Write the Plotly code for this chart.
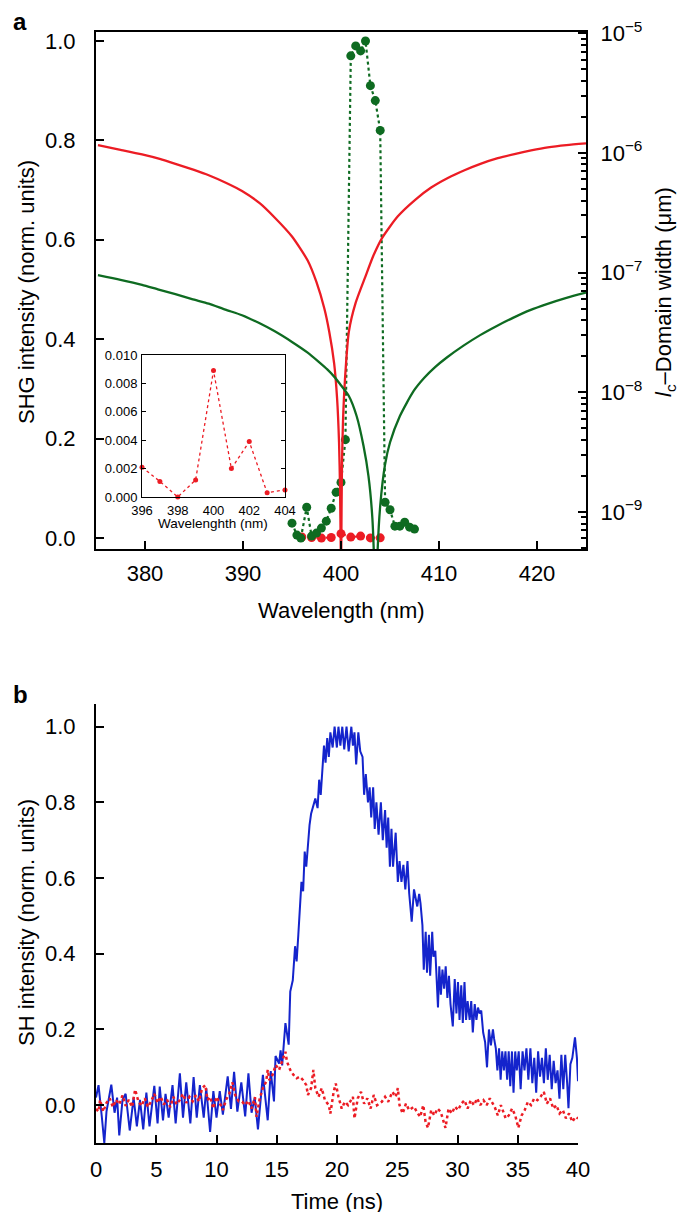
import plotly.graph_objects as go

# ---------------- Panel a data ----------------
# solid curves (right log axis): coherence length / domain width
red_lc_wl = [375.2, 377.5, 379.7, 381.5, 383.1, 385.0, 386.5, 388.3, 389.9, 391.7, 393.2, 395.0, 396.6, 397.5, 398.3, 398.8,
             399.3, 399.6, 399.8, 399.9, 399.97, 400.0,
             400.03, 400.1, 400.2, 400.4, 400.8, 401.5, 402.5, 403.3, 404.2, 405.8, 407.6, 409.2, 410.9, 412.6, 414.3, 416.0,
             417.7, 419.4, 421.1, 423.0, 425.0]
red_lc_val = [1.16e-6, 1.06e-6, 9.7e-7, 8.9e-7, 8.1e-7, 7.2e-7, 6.5e-7, 5.6e-7, 4.8e-7, 3.8e-7, 2.9e-7, 2.0e-7, 1.26e-7, 8.3e-8,
              5.0e-8, 3.2e-8, 1.74e-8, 8.9e-9, 3.8e-9, 1.6e-9, 5.0e-10, 1e-10,
              5.0e-10, 2.5e-9, 5.6e-9, 1.26e-8, 3.2e-8, 5.6e-8, 9.3e-8, 1.38e-7, 1.95e-7, 2.95e-7, 4.07e-7, 5.13e-7, 6.17e-7,
              7.16e-7, 8.13e-7, 9.02e-7, 9.77e-7, 1.047e-6, 1.11e-6, 1.16e-6, 1.2e-6]

green_lc_wl = [375.2, 377.5, 379.7, 381.4, 383.1, 384.8, 386.5, 388.2, 389.9, 391.6, 393.2, 395.0, 396.6, 397.7, 398.6, 399.3,
               399.9, 400.8, 401.6, 402.3, 402.8, 403.2, 403.45, 403.55,
               403.7, 404.0, 404.5, 405.0, 406.0, 407.4, 408.5, 409.6, 410.8, 412.5, 414.2, 415.9, 417.6, 419.3, 421.0, 423.0, 425.0]
green_lc_val = [9.5e-8, 8.7e-8, 7.9e-8, 7.2e-8, 6.6e-8, 6.0e-8, 5.5e-8, 4.9e-8, 4.4e-8, 3.8e-8, 3.24e-8, 2.63e-8, 2.14e-8, 1.8e-8,
                1.55e-8, 1.35e-8, 1.17e-8, 9.3e-9, 6.3e-9, 3.55e-9, 2.0e-9, 8.9e-10, 2.5e-10, 1e-10,
                4.0e-10, 1.12e-9, 2.5e-9, 3.8e-9, 6.3e-9, 1.02e-8, 1.32e-8, 1.62e-8, 1.95e-8, 2.45e-8, 3.0e-8, 3.58e-8, 4.2e-8,
                4.85e-8, 5.45e-8, 6.15e-8, 6.8e-8]

# measured SHG (left axis)
green_shg_wl = [395.0, 395.5, 395.9, 396.5, 397.0, 397.5, 398.0, 398.5, 399.0, 399.5, 400.0, 400.45,
                401.0, 401.5, 402.0, 402.5, 403.0, 403.5, 404.0, 404.5, 405.0, 405.5, 406.0, 406.5, 407.0, 407.5]
green_shg_val = [0.030, 0.006, 0.0, 0.062, 0.004, 0.010, 0.020, 0.034, 0.060, 0.092, 0.112, 0.198,
                 0.970, 0.990, 0.980, 1.000, 0.910, 0.880, 0.820, 0.072, 0.057, 0.024, 0.024, 0.032, 0.022, 0.018]

red_shg_wl = [396, 397, 398, 399, 400, 401, 402, 403, 404]
red_shg_val = [0.0021, 0.0011, 0.0000, 0.0012, 0.0089, 0.0020, 0.0039, 0.0003, 0.0005]

left_ticks = [0.0, 0.2, 0.4, 0.6, 0.8, 1.0]
wl_ticks = [380, 390, 400, 410, 420]
log_ticks = [1e-9, 1e-8, 1e-7, 1e-6, 1e-5]
log_ticktext = ["10<sup>−9</sup>", "10<sup>−8</sup>", "10<sup>−7</sup>", "10<sup>−6</sup>", "10<sup>−5</sup>"]
inset_xticks = [396, 398, 400, 402, 404]
inset_yticks = [0.000, 0.002, 0.004, 0.006, 0.008, 0.010]

# ---------------- Panel b data ----------------
blue_t = [0, 0.21, 0.48, 0.69, 0.87, 1.27, 1.54, 1.75, 1.93, 2.2, 2.46, 2.8, 3.12, 3.39, 3.65, 3.92, 4.18, 4.44, 4.84, 5.11,
          5.29, 5.56, 5.77, 6.03, 6.35, 6.61, 6.96, 7.22, 7.49, 7.83, 8.1, 8.36, 8.62, 8.94, 9.15, 9.47, 9.74, 10.0, 10.27, 10.53,
          10.93, 11.2, 11.46, 11.73, 12.06, 12.38, 12.65, 12.91, 13.17, 13.44, 13.85, 14.25, 14.5, 14.77, 14.9, 15.19, 15.32, 15.45,
          15.72, 15.99, 16.12, 16.33, 16.52, 16.65, 16.79, 16.92, 17.05, 17.19, 17.32, 17.45, 17.59, 17.72, 17.85, 18.04, 18.2,
          18.39, 18.52, 18.65, 18.79, 18.92, 19.05, 19.19, 19.32, 19.45, 19.64, 19.8, 19.99, 20.12, 20.28, 20.44, 20.6, 20.79,
          20.97, 21.19, 21.32, 21.45, 21.59, 21.77, 21.93, 22.12, 22.25, 22.39, 22.57, 22.71, 22.84, 23.0, 23.13, 23.27, 23.45,
          23.64, 23.8, 23.99, 24.12, 24.25, 24.39, 24.52, 24.65, 24.87, 25.05, 25.19, 25.35, 25.51, 25.67, 25.85, 25.99, 26.2,
          26.39, 26.66, 26.82, 26.93, 27.09, 27.2, 27.36, 27.47, 27.63, 27.73, 27.9, 28.0, 28.16, 28.27, 28.38, 28.49, 28.62,
          28.75, 28.89, 29.02, 29.16, 29.29, 29.42, 29.61, 29.77, 29.91, 30.04, 30.17, 30.31, 30.44, 30.58, 30.71, 30.84, 31.01,
          31.14, 31.27, 31.43, 31.57, 31.7, 31.84, 31.97, 32.13, 32.29, 32.45, 32.61, 32.77, 32.94, 33.04, 33.18, 33.31, 33.45,
          33.58, 33.71, 33.85, 33.98, 34.12, 34.25, 34.38, 34.52, 34.65, 34.79, 34.92, 35.08, 35.24, 35.4, 35.56, 35.72, 35.88,
          36.05, 36.21, 36.37, 36.53, 36.69, 36.85, 37.01, 37.17, 37.33, 37.49, 37.65, 37.82, 37.98, 38.14, 38.3, 38.46, 38.62,
          38.78, 38.94, 39.1, 39.21, 39.37, 39.53, 39.75, 39.91, 40.0]
blue_v = [0.02, 0.053, -0.03, -0.10, -0.017, 0.054, -0.02, 0.02, -0.08, 0.014, 0.03, -0.067, 0.02, -0.056, 0.014, -0.064, 0.033,
          -0.056, 0.051, -0.048, 0.049, -0.04, 0.03, -0.033, 0.053, -0.048, 0.084, -0.033, 0.06, -0.048, 0.074, -0.033, 0.053,
          -0.033, 0.045, -0.071, 0.037, -0.033, 0.037, -0.025, 0.076, -0.01, 0.088, -0.017, 0.06, -0.03, 0.084, -0.02, 0.02,
          -0.064, 0.08, -0.04, 0.09, 0.01, 0.13, 0.11, 0.145, 0.105, 0.217, 0.16, 0.30, 0.33, 0.42, 0.38, 0.45, 0.54, 0.59,
          0.565, 0.67, 0.63, 0.70, 0.74, 0.77, 0.79, 0.81, 0.785, 0.86, 0.82, 0.905, 0.95, 0.905, 0.97, 0.92, 0.985, 0.945, 1.0,
          0.945, 1.0, 0.95, 1.0, 0.94, 1.0, 0.935, 1.0, 0.95, 0.985, 0.90, 0.985, 0.935, 0.92, 0.82, 0.875, 0.80, 0.84, 0.76,
          0.84, 0.73, 0.80, 0.715, 0.80, 0.70, 0.78, 0.68, 0.76, 0.63, 0.73, 0.63, 0.72, 0.59, 0.645, 0.59, 0.635, 0.57, 0.645,
          0.56, 0.485, 0.57, 0.525, 0.558, 0.533, 0.475, 0.358, 0.458, 0.35, 0.45, 0.342, 0.458, 0.392, 0.408, 0.308, 0.258,
          0.367, 0.292, 0.358, 0.308, 0.367, 0.283, 0.342, 0.267, 0.208, 0.333, 0.242, 0.325, 0.225, 0.317, 0.217, 0.325,
          0.225, 0.275, 0.225, 0.275, 0.192, 0.267, 0.225, 0.258, 0.242, 0.25, 0.192, 0.167, 0.10, 0.20, 0.158, 0.20, 0.175,
          0.15, 0.092, 0.15, 0.067, 0.142, 0.092, 0.142, 0.067, 0.142, 0.05, 0.142, 0.033, 0.142, 0.092, 0.142, 0.042, 0.142,
          0.092, 0.15, 0.067, 0.15, 0.058, 0.125, 0.033, 0.142, 0.075, 0.125, 0.058, 0.15, 0.067, 0.133, 0.042, 0.117, 0.058,
          0.092, 0.017, 0.133, 0.042, 0.133, 0.058, -0.008, 0.108, 0.125, 0.179, 0.125, 0.063]

red_t = [0, 0.21, 0.34, 0.6, 0.87, 1.14, 1.4, 1.67, 1.93, 2.2, 2.46, 2.72, 2.99, 3.25, 3.52, 3.78, 4.05, 4.31, 4.58, 4.84,
         5.11, 5.37, 5.63, 5.9, 6.16, 6.43, 6.69, 6.96, 7.22, 7.49, 7.75, 8.02, 8.28, 8.54, 8.81, 9.07, 9.26, 9.47, 9.74, 10.0,
         10.26, 10.53, 10.79, 11.06, 11.32, 11.59, 11.85, 12.12, 12.38, 12.65, 12.91, 13.19, 13.32, 13.59, 13.85, 14.12, 14.25,
         14.39, 14.65, 14.92, 15.19, 15.45, 15.72, 15.85, 16.12, 16.39, 16.65, 16.92, 17.19, 17.45, 17.59, 17.85, 18.04, 18.2,
         18.47, 18.73, 19.0, 19.32, 19.45, 19.72, 19.9, 20.12, 20.39, 20.65, 20.92, 21.32, 21.45, 21.72, 21.99, 22.25, 22.52,
         22.79, 23.05, 23.32, 23.72, 23.99, 24.25, 24.6, 24.87, 25.05, 25.19, 25.45, 25.72, 25.99, 26.39, 26.63, 26.9, 27.16,
         27.35, 27.55, 27.82, 28.08, 28.34, 28.61, 29.0, 29.26, 29.53, 29.79, 30.05, 30.32, 30.58, 30.84, 31.1, 31.37, 31.63,
         31.89, 32.16, 32.42, 32.68, 33.08, 33.34, 33.6, 34.0, 34.26, 34.53, 34.79, 35.05, 35.32, 35.58, 35.84, 36.1, 36.37,
         36.63, 36.89, 37.16, 37.42, 37.68, 37.95, 38.21, 38.47, 38.74, 39.0, 39.26, 39.53, 39.79, 40.0]
red_v = [-0.01, -0.017, 0.014, -0.017, 0.006, 0.018, -0.005, 0.014, 0.002, 0.026, -0.002, 0.014, -0.005, 0.041, 0.01, -0.002,
         0.018, -0.005, 0.01, 0.03, 0.006, 0.022, 0.002, 0.014, -0.005, 0.022, 0.002, 0.014, 0.03, 0.006, 0.022, 0.01, 0.026,
         0.01, 0.045, 0.053, 0.014, 0.022, -0.009, 0.022, 0.006, -0.013, 0.014, 0.03, 0.06, 0.022, 0.01, 0.009, 0.0, 0.012,
         -0.009, 0.021, -0.031, 0.018, 0.045, 0.062, 0.093, 0.066, 0.08, 0.106, 0.093, 0.115, 0.141, 0.115, 0.093, 0.08, 0.071,
         0.075, 0.066, 0.053, 0.027, 0.045, 0.093, 0.045, 0.022, 0.045, 0.013, 0.0, -0.022, 0.035, 0.057, 0.022, -0.009, 0.009,
         0.0, 0.022, -0.035, 0.018, 0.035, 0.004, 0.018, -0.009, 0.027, 0.0, 0.009, 0.022, 0.009, 0.035, 0.022, 0.045, 0.0,
         -0.022, 0.004, -0.013, -0.004, -0.018, -0.031, 0.0, -0.044, -0.06, -0.013, -0.027, -0.009, -0.018, -0.06, -0.009,
         -0.022, -0.004, -0.013, 0.004, 0.013, -0.009, 0.013, 0.0, 0.018, 0.0, 0.013, 0.0, 0.018, -0.004, -0.027, 0.0, -0.035,
         -0.027, -0.009, -0.027, -0.06, -0.027, -0.013, 0.009, 0.0, 0.018, 0.013, 0.022, 0.035, 0.004, 0.018, -0.009, 0.0,
         -0.022, -0.013, -0.035, -0.022, -0.044, -0.031, -0.035]

time_ticks = [0, 5, 10, 15, 20, 25, 30, 35, 40]
b_yticks = [0.0, 0.2, 0.4, 0.6, 0.8, 1.0]

# ---------------- styling ----------------
RED = "#ec1c24"
GREEN = "#0e6b21"
BLUE = "#1424cc"
FONT = "Liberation Sans"
W, H = 685, 1212

def px(x):
    return x / W

def py(y):
    return 1 - y / H

fig = go.Figure()

fig.add_trace(go.Scatter(x=red_lc_wl, y=red_lc_val, mode="lines",
                         line=dict(color=RED, width=2.3, shape="spline", smoothing=0.6),
                         xaxis="x", yaxis="y2", showlegend=False))
fig.add_trace(go.Scatter(x=green_lc_wl, y=green_lc_val, mode="lines",
                         line=dict(color=GREEN, width=2.3, shape="spline", smoothing=0.6),
                         xaxis="x", yaxis="y2", showlegend=False))
fig.add_trace(go.Scatter(x=red_shg_wl, y=red_shg_val, mode="lines+markers",
                         line=dict(color=RED, width=2, dash="dot"), marker=dict(color=RED, size=9),
                         xaxis="x", yaxis="y", showlegend=False, cliponaxis=False))
fig.add_trace(go.Scatter(x=green_shg_wl, y=green_shg_val, mode="lines+markers",
                         line=dict(color=GREEN, width=2.2, dash="dot"), marker=dict(color=GREEN, size=9),
                         xaxis="x", yaxis="y", showlegend=False))
# inset
fig.add_trace(go.Scatter(x=red_shg_wl, y=red_shg_val, mode="lines+markers",
                         line=dict(color=RED, width=1.3, dash="dot"), marker=dict(color=RED, size=5),
                         xaxis="x3", yaxis="y4", showlegend=False, cliponaxis=False))
# panel b
fig.add_trace(go.Scatter(x=blue_t, y=blue_v, mode="lines", line=dict(color=BLUE, width=2),
                         xaxis="x2", yaxis="y3", showlegend=False))
fig.add_trace(go.Scatter(x=red_t, y=red_v, mode="lines", line=dict(color=RED, width=2.5, dash="dot"),
                         xaxis="x2", yaxis="y3", showlegend=False))

tickfont = dict(family=FONT, size=22, color="black")
common = dict(showgrid=False, zeroline=False, showline=True, linecolor="black", linewidth=2,
              ticks="inside", tickcolor="black", tickwidth=2, ticklen=8, automargin=False, tickfont=tickfont)

fig.update_layout(
    width=W, height=H, margin=dict(l=0, r=0, t=0, b=0),
    paper_bgcolor="white", plot_bgcolor="rgba(0,0,0,0)",
    template=None,
    xaxis=dict(domain=[px(88), px(578)], anchor="y", range=[375, 425], tickvals=wl_ticks,
               mirror=True, ticklabelstandoff=4, **common),
    yaxis=dict(domain=[py(541), py(24)], anchor="x", range=[-0.022, 1.018], tickvals=left_ticks,
               tickformat=".1f", ticklabelstandoff=14, **common),
    yaxis2=dict(overlaying="y", side="right", anchor="x", type="log", range=[-9.31, -4.99],
                tickvals=log_ticks, ticktext=log_ticktext, ticklabelstandoff=8,
                minor=dict(ticks="inside", ticklen=5, tickwidth=1.5, tickcolor="black",
                           tickvals=[m * 10.0 ** e for e in range(-10, -5) for m in range(2, 10)]),
                **common),
    xaxis3=dict(domain=[px(134), px(277)], anchor="y4", range=[396, 404], tickvals=inset_xticks,
                showgrid=False, zeroline=False, showline=True, linecolor="black", linewidth=1, mirror=True,
                ticks="", automargin=False, tickfont=dict(family=FONT, size=13, color="black"),
                ticklabelstandoff=1),
    yaxis4=dict(domain=[py(489), py(347)], anchor="x3", range=[0, 0.010], tickvals=inset_yticks,
                tickformat=".3f", showgrid=False, zeroline=False, showline=True, linecolor="black", linewidth=1,
                mirror="ticks", ticks="inside", ticklen=4, tickwidth=1, tickcolor="black", automargin=False,
                tickfont=dict(family=FONT, size=13, color="black"), ticklabelstandoff=1),
    xaxis2=dict(domain=[px(88), px(570)], anchor="y3", range=[0, 40], tickvals=time_ticks,
                ticklabelstandoff=6, **common),
    yaxis3=dict(domain=[py(1135), py(696)], anchor="x2", range=[-0.1, 1.06], tickvals=b_yticks,
                tickformat=".1f", ticklabelstandoff=14, **common),
)

ann_font = dict(family=FONT, size=22, color="black")
annotations = [
    dict(text="<b>a</b>", x=px(12), y=py(14), font=dict(family=FONT, size=24, color="black")),
    dict(text="<b>b</b>", x=px(12), y=py(686), font=dict(family=FONT, size=24, color="black")),
    dict(text="Wavelength (nm)", x=px(333), y=py(602), font=ann_font),
    dict(text="SHG intensity (norm. units)", x=px(18), y=py(284), font=ann_font, textangle=-90),
    dict(text="<i>l</i><sub>c</sub>–Domain width (μm)", x=px(657), y=py(284), font=ann_font, textangle=-90),
    dict(text="Wavelenghth (nm)", x=px(205), y=py(516), font=dict(family=FONT, size=13.5, color="black")),
    dict(text="Time (ns)", x=px(329), y=py(1193), font=ann_font),
    dict(text="SH intensity (norm. units)", x=px(18), y=py(915), font=ann_font, textangle=-90),
]
for a in annotations:
    a.update(xref="paper", yref="paper", showarrow=False, xanchor="center", yanchor="middle")
fig.update_layout(annotations=annotations)

fig.write_html("out.html")
